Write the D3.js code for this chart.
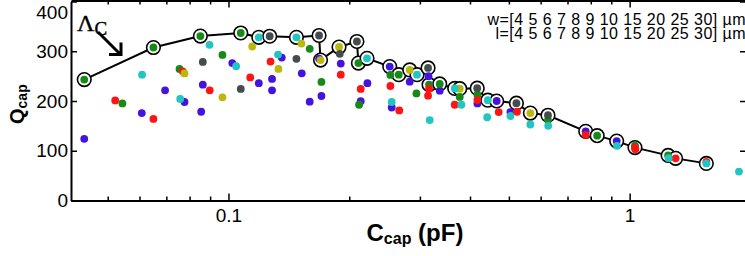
<!DOCTYPE html>
<html>
<head>
  <meta charset="utf-8">
  <script src="https://d3js.org/d3.v7.min.js"></script>

  <style>
    body {
      margin: 0;
      background: #fff;
    }
    svg {
      display: block;
    }
    .axis text {
      font-family: "Liberation Sans", Arial, sans-serif;
      font-size: 19px;
      fill: #000;
    }
    .axis path {
      stroke: #000;
      stroke-width: 2px;
    }
    .axis line {
      stroke: #000;
      stroke-width: 1.5px;
    }
  </style>
</head>

<body>
<script type="text/javascript">
  "use strict";

  // capacitor sweep: C in pF, Q unitless
  var groups = ["blue", "green", "red", "yellow", "gray", "cyan"];

  var blueC = [0.0437, 0.0608, 0.0695, 0.0777, 0.0863, 0.0855, 0.1022, 0.119, 0.1284, 0.1284, 0.1358, 0.1523,
               0.1594, 0.1682, 0.1705, 0.1905, 0.2136, 0.222, 0.2552, 0.283, 0.3152, 0.3362, 0.4174, 0.5044];
  var blueQ = [124, 175.8, 221.4, 198, 232.9, 178.4, 276.2, 235.9, 244.4, 221.4, 287.3, 255.6,
               198.6, 285.3, 210.1, 275.2, 199.6, 235.9, 186.9, 238.9, 250, 220.8, 195.2, 177.8];

  var greenC = [0.0755, 0.0544, 0.0966, 0.1594, 0.1705, 0.2116, 0.2533, 0.2941, 0.3771, 0.4174, 0.6258, 1.031];
  var greenQ = [264.5, 195.2, 292.7, 304.8, 238.3, 192.5, 252.4, 215.3, 208.1, 212.7, 161.7, 110.3];

  var redC = [0.0522, 0.0650, 0.0769, 0.0898, 0.1133, 0.1273, 0.1905, 0.2136, 0.2533, 0.2665, 0.3144, 0.3162,
              0.3664, 0.4174, 0.4716, 0.5239, 0.7771, 1.033, 1.553];
  var redQ = [201.2, 163.9, 259.7, 221.4, 247.4, 279.2, 253, 224.2, 230.2, 181, 210.7, 224.8,
              192.5, 202, 177.8, 178.4, 132.1, 103.2, 77.6];

  var yellowC = [0.0777, 0.0966, 0.1146, 0.1332, 0.152];
  var yellowQ = [255.4, 207.3, 309.5, 264.5, 315.5];

  var grayC = [0.0863, 0.1073, 0.1477, 0.1894];
  var grayQ = [278.6, 224.2, 284.7, 294.8];

  var cyanC = [0.0609, 0.0758, 0.0897, 0.1045, 0.1329, 0.2552, 0.3174, 0.3807, 0.4415, 0.5044, 0.5656, 0.6265,
               0.9298, 1.251, 1.873];
  var cyanQ = [253, 204.2, 312.9, 269.8, 293.3, 198, 161.7, 192.5, 167.3, 169.8, 152.8, 150.2,
               109.9, 85.1, 58.1];

  // the Lambda_C envelope (circled points joined by the black line)
  var frontC = [0.0437, 0.0650, 0.0851, 0.1073, 0.119, 0.1267, 0.1477, 0.1682, 0.1696, 0.1886, 0.209, 0.2108,
                0.2215, 0.2523, 0.2657, 0.283, 0.2951, 0.3144, 0.3162, 0.3362, 0.3664, 0.3771, 0.4169, 0.443,
                0.4662, 0.5221, 0.5656, 0.6258, 0.7771, 0.8299, 0.9283, 1.031, 1.247, 1.302, 1.553];
  var frontQ = [243, 307.5, 330.6, 336.7, 328, 330.2, 328, 331.7, 282.3, 308.5, 319.6, 276.2,
                285.7, 269.2, 253, 262.5, 253, 266.5, 232.9, 234.3, 225.2, 224.8, 225.8, 201.6,
                200, 195.6, 175.8, 171.4, 139.1, 130.4, 119.4, 106.3, 90.7, 84.7, 74.6];
  var frontGroup = ["green", "green", "green", "green", "cyan", "gray", "cyan", "gray", "yellow", "yellow", "gray", "green",
                    "cyan", "blue", "green", "yellow", "cyan", "gray", "green", "green", "cyan", "yellow", "gray", "cyan",
                    "blue", "gray", "yellow", "gray", "blue", "green", "blue", "red", "green", "red", "cyan"];

  var xMajor = [0.1, 1];
  var xMinor = [0.05, 0.06, 0.07, 0.08, 0.09, 0.2, 0.3, 0.4, 0.5, 0.6, 0.7, 0.8, 0.9];
  var yTicks = [0, 100, 200, 300, 400];
  var sizeNote = ["w=[4 5 6 7 8 9 10 15 20 25 30] \u00b5m", "l=[4 5 6 7 8 9 10 15 20 25 30] \u00b5m"];

  function draw() {
    var W = 745, H = 256;
    var left = 71, right = 746, top = 0.5, bottom = 200.5;

    var color = {
      blue: "#4414dc",
      green: "#168a16",
      red: "#ff1414",
      yellow: "#b8b80e",
      gray: "#454c4c",
      cyan: "#22c4c4"
    };
    var groupC = {blue: blueC, green: greenC, red: redC, yellow: yellowC, gray: grayC, cyan: cyanC};
    var groupQ = {blue: blueQ, green: greenQ, red: redQ, yellow: yellowQ, gray: grayQ, cyan: cyanQ};

    var svg = d3.select("body")
      .append("svg")
        .attr("width", W)
        .attr("height", H);

    var x = d3.scaleLog().domain([0.0405, 1.95]).range([left, right]);
    var y = d3.scaleLinear().domain([0, 400]).range([bottom, 1.5]);

    // axes: MATLAB style box with inward ticks
    var bx = svg.append("g").attr("class", "axis")
      .attr("transform", "translate(0," + bottom + ")")
      .call(d3.axisBottom(x).tickValues(xMajor).tickFormat(function (d) { return d; })
        .tickSizeInner(-7).tickSizeOuter(0).tickPadding(8));
    bx.append("g")
      .call(d3.axisBottom(x).tickValues(xMinor).tickFormat("").tickSizeInner(-4).tickSizeOuter(0))
      .select(".domain").remove();

    var tx = svg.append("g").attr("class", "axis")
      .attr("transform", "translate(0," + top + ")")
      .call(d3.axisTop(x).tickValues(xMajor).tickFormat("").tickSizeInner(-7).tickSizeOuter(0));
    tx.append("g")
      .call(d3.axisTop(x).tickValues(xMinor).tickFormat("").tickSizeInner(-4).tickSizeOuter(0))
      .select(".domain").remove();

    var ly = svg.append("g").attr("class", "axis")
      .attr("transform", "translate(" + left + ",0)")
      .call(d3.axisLeft(y).tickValues(yTicks).tickSizeInner(-6).tickSizeOuter(0).tickPadding(3));
    // top label sits lower than its tick in the original
    ly.selectAll(".tick text").filter(function (d) { return d === 400; }).attr("y", 11);

    svg.append("g").attr("class", "axis")
      .attr("transform", "translate(" + right + ",0)")
      .call(d3.axisRight(y).tickValues(yTicks).tickFormat("").tickSizeInner(-6).tickSizeOuter(0));

    // envelope line + rings
    var line = d3.line()
      .x(function (d) { return x(d.c); })
      .y(function (d) { return y(d.q); });

    var front = frontC.map(function (c, i) { return {c: c, q: frontQ[i], g: frontGroup[i]}; });

    svg.append("path")
      .datum(front)
      .attr("d", line)
      .attr("fill", "none")
      .attr("stroke", "#000")
      .attr("stroke-width", 2);

    svg.selectAll(".ring")
      .data(front)
      .enter()
      .append("circle")
        .attr("class", "ring")
        .attr("cx", function (d) { return x(d.c); })
        .attr("cy", function (d) { return y(d.q); })
        .attr("r", 6.8)
        .attr("fill", "#fff")
        .attr("stroke", "#000")
        .attr("stroke-width", 1.6);

    // all dots, one colour after another
    var dots = [];
    groups.forEach(function (g) {
      groupC[g].forEach(function (c, i) { dots.push({c: c, q: groupQ[g][i], g: g}); });
      front.forEach(function (d) { if (d.g === g) dots.push(d); });
    });

    svg.selectAll(".dot")
      .data(dots)
      .enter()
      .append("circle")
        .attr("class", "dot")
        .attr("cx", function (d) { return x(d.c); })
        .attr("cy", function (d) { return y(d.q); })
        .attr("r", 3.9)
        .style("fill", function (d) { return color[d.g]; });

    // size note, top right (tight line spacing as in the original)
    svg.selectAll(".note")
      .data(sizeNote)
      .enter()
      .append("text")
        .attr("class", "note")
        .attr("x", 746)
        .attr("y", function (d, i) { return 25.3 + i * 13.6; })
        .attr("text-anchor", "end")
        .style("font-family", "\"Liberation Sans\", Arial, sans-serif")
        .style("font-size", "16px")
        .style("letter-spacing", "0.45px")
        .text(function (d) { return d; });

    // Lambda_C annotation with arrow
    var lam = svg.append("text")
      .attr("x", 77)
      .attr("y", 30.7)
      .style("font-family", "\"Liberation Serif\", \"Times New Roman\", serif")
      .style("stroke", "#000")
      .style("stroke-width", 0.4);
    lam.append("tspan").style("font-size", "24px").text("\u039b");
    lam.append("tspan").attr("dy", 4.5).style("font-size", "19px").text("C");

    svg.append("path")
      .attr("d", "M98,32 L120.5,54.5 M109,54.5 L121,54.5 L121,42.5")
      .attr("fill", "none")
      .attr("stroke", "#000")
      .attr("stroke-width", 3);

    // axis titles
    var xt = svg.append("text")
      .attr("x", 366.5)
      .attr("y", 240.5)
      .style("font-family", "\"Liberation Sans\", Arial, sans-serif")
      .style("font-weight", "bold");
    xt.append("tspan").style("font-size", "24px").text("C");
    xt.append("tspan").attr("dy", 3).style("font-size", "16px").text("cap");
    xt.append("tspan").attr("dy", -3).style("font-size", "24px").text(" (pF)");

    var yt = svg.append("text")
      .attr("transform", "translate(24,124) rotate(-90)")
      .style("font-family", "\"Liberation Sans\", Arial, sans-serif")
      .style("font-weight", "bold");
    yt.append("tspan").style("font-size", "20px").text("Q");
    yt.append("tspan").attr("dy", 3).style("font-size", "14px").text("cap");
  }

  draw();
</script>
</body>
</html>
